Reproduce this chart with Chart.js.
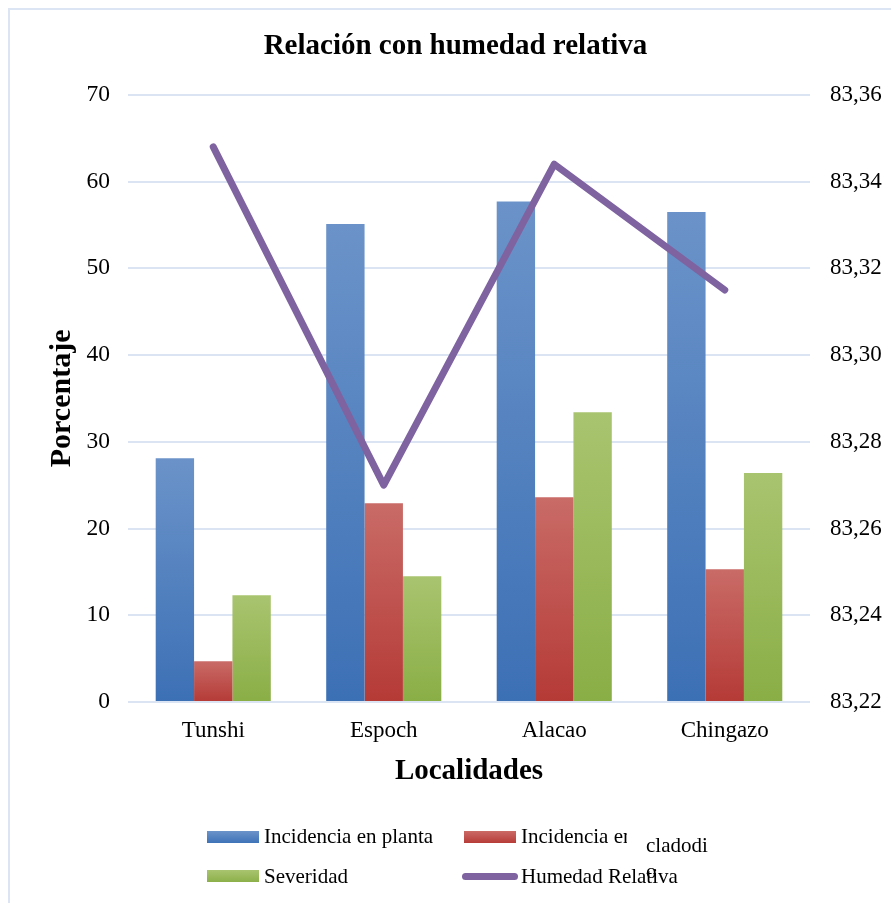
<!DOCTYPE html>
<html lang="es">
<head>
<meta charset="utf-8">
<title>Relación con humedad relativa</title>
<script src="https://cdn.jsdelivr.net/npm/chart.js@4.4.1/dist/chart.umd.min.js"></script>
<style>
  html, body { margin: 0; padding: 0; background: #fff; overflow: hidden; }
  #wrap { position: relative; width: 891px; height: 903px; overflow: hidden; }
  #marco { position: absolute; left: 8px; top: 8px; width: 1000px; height: 1000px; border: 2px solid #dbe5f3; }
  #grafico { position: absolute; left: 0; top: 0; }
  .ley { position: absolute; font-family: "Liberation Serif", "Times New Roman", serif; font-size: 21px; color: #000; white-space: nowrap; line-height: 1; }
  .caja { position: absolute; height: 12px; }
  .clip { overflow: hidden; }
</style>
</head>
<body>
<div id="wrap">
  <div id="marco"></div>
  <canvas id="grafico" width="891" height="903"></canvas>

  <!-- leyenda -->
  <div class="caja" style="left:207px; top:831px; width:52px; background:linear-gradient(#6b93c9,#3f73b8);"></div>
  <div class="ley" style="left:264px; top:826px;">Incidencia en planta</div>
  <div class="caja" style="left:464px; top:831px; width:52px; background:linear-gradient(#cb6a66,#b73c38);"></div>
  <div class="ley clip" style="left:521px; top:826px; width:106px;">Incidencia en</div>
  <div class="ley" style="left:646px; top:835px;">cladodi</div>
  <div class="caja" style="left:207px; top:870px; width:52px; background:linear-gradient(#a9c46f,#8db04a);"></div>
  <div class="ley" style="left:264px; top:866px;">Severidad</div>
  <div class="caja" style="left:462px; top:873px; width:56px; height:7px; border-radius:4px; background:#7f63a1;"></div>
  <div class="ley" style="left:521px; top:866px;">Humedad Relativa</div>
  <div class="ley" style="left:646px; top:861px;">o</div>
</div>

<script>
// --- datos ---
const localidades = ['Tunshi', 'Espoch', 'Alacao', 'Chingazo'];
const incidenciaPlanta = [28.1, 55.1, 57.7, 56.5];
const incidenciaCladodio = [4.7, 22.9, 23.6, 15.3];
const severidad = [12.3, 14.5, 33.4, 26.4];
const humedadRelativa = [83.348, 83.270, 83.344, 83.315];

// escalas
const ticksPorcentaje = [0, 70, 10];        // min, max, paso
const ticksHumedad = [83.22, 83.36, 0.02];  // min, max, paso

const FUENTE = "'Liberation Serif', 'Times New Roman', serif";

// degradado vertical por barra (más claro arriba)
function degradado(claro, oscuro) {
    return function(ctx) {
        const chart = ctx.chart;
        if (!chart.chartArea || ctx.type !== 'data') return oscuro;
        const y = chart.scales.y;
        const top = y.getPixelForValue(ctx.raw);
        const base = y.getPixelForValue(0);
        if (!isFinite(top) || !isFinite(base) || top === base) return oscuro;
        const g = chart.ctx.createLinearGradient(0, top, 0, base);
        g.addColorStop(0, claro);
        g.addColorStop(1, oscuro);
        return g;
    };
}

const barraComun = {
    type: 'bar',
    yAxisID: 'y',
    order: 2,
    borderWidth: 0,
    categoryPercentage: 0.675,
    barPercentage: 1.0
};

new Chart(document.getElementById('grafico'), {
    data: {
        labels: localidades,
        datasets: [
            Object.assign({}, barraComun, {
                label: 'Incidencia en planta',
                data: incidenciaPlanta,
                backgroundColor: degradado('#6b93c9', '#3c70b5')
            }),
            Object.assign({}, barraComun, {
                label: 'Incidencia en cladodio',
                data: incidenciaCladodio,
                backgroundColor: degradado('#c96b67', '#b53a36')
            }),
            Object.assign({}, barraComun, {
                label: 'Severidad',
                data: severidad,
                backgroundColor: degradado('#a9c46f', '#8aae46')
            }),
            {
                type: 'line',
                label: 'Humedad Relativa',
                data: humedadRelativa,
                yAxisID: 'y1',
                order: 0,
                borderColor: '#7f63a1',
                borderWidth: 7,
                borderCapStyle: 'round',
                borderJoinStyle: 'round',
                pointRadius: 0,
                tension: 0,
                fill: false
            }
        ]
    },
    options: {
        responsive: false,
        animation: false,
        layout: { padding: { left: 20, right: 0, top: 0, bottom: 102 } },
        plugins: {
            legend: { display: false },
            tooltip: { enabled: false },
            title: {
                display: true,
                text: 'Relación con humedad relativa',
                color: '#000',
                font: { family: FUENTE, size: 29, weight: 'bold' },
                padding: { top: 29, bottom: 31 }
            }
        },
        scales: {
            x: {
                grid: { display: false, drawTicks: false },
                border: { display: false },
                ticks: { color: '#000', font: { family: FUENTE, size: 23 }, padding: 15 },
                title: {
                    display: true,
                    text: 'Localidades',
                    color: '#000',
                    font: { family: FUENTE, size: 29, weight: 'bold' },
                    padding: { top: 0, bottom: 12 }
                },
                afterFit: function(s) { s.height = 99; }
            },
            y: {
                position: 'left',
                min: ticksPorcentaje[0],
                max: ticksPorcentaje[1],
                grid: { color: '#dae4f2', lineWidth: 2, drawTicks: false },
                border: { display: false },
                ticks: { stepSize: ticksPorcentaje[2], color: '#000', font: { family: FUENTE, size: 23.5 }, padding: 18 },
                title: {
                    display: true,
                    text: 'Porcentaje',
                    color: '#000',
                    font: { family: FUENTE, size: 30, weight: 'bold' },
                    padding: { top: 24, bottom: 0 }
                },
                afterFit: function(s) { s.width = 108; }
            },
            y1: {
                position: 'right',
                min: ticksHumedad[0],
                max: ticksHumedad[1],
                grid: { display: false, drawTicks: false },
                border: { display: false },
                ticks: {
                    stepSize: ticksHumedad[2],
                    color: '#000',
                    font: { family: FUENTE, size: 23 },
                    padding: 20,
                    callback: function(v) { return v.toFixed(2).replace('.', ','); }
                },
                afterFit: function(s) { s.width = 81; }
            }
        }
    }
});
</script>
</body>
</html>
